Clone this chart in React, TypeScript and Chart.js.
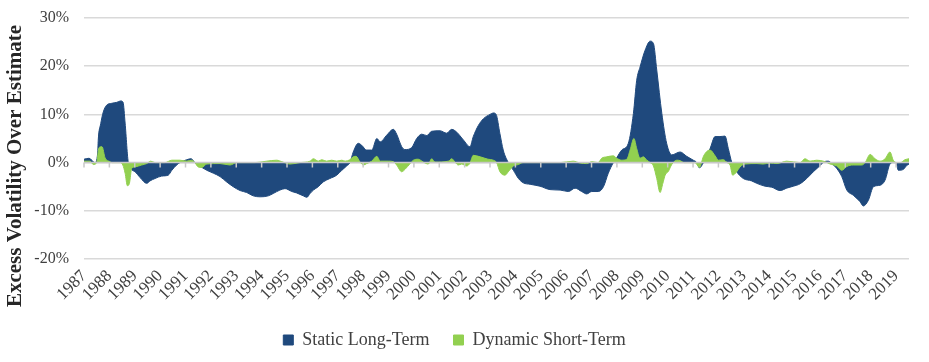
import React, { useEffect, useRef } from "react";
import { Chart, registerables } from "chart.js";

Chart.register(...registerables);

const FONT = "'Liberation Serif', 'Times New Roman', serif";

const yTickValues = [-20, -10, 0, 10, 20, 30];
const yearStart = 1987;
const yearEnd = 2019.51;
const yTitle = "Excess Volatility Over Estimate";
const seriesNames = ["Static Long-Term", "Dynamic Short-Term"];
const seriesColors = ["#1F497D", "#92D050"];

const staticYears = [
  1987.0, 1987.2, 1987.43, 1987.54, 1987.56, 1987.66, 1987.76, 1987.89, 1988.09, 1988.29, 1988.45, 1988.54, 1988.62, 1988.75,
  1989.01, 1989.21, 1989.47, 1989.6, 1989.8, 1990.06, 1990.32, 1990.46, 1990.65, 1990.78, 1991.05, 1991.22, 1991.37,
  1991.5, 1991.84, 1992.1, 1992.36, 1992.62, 1992.88, 1993.15, 1993.41, 1993.67, 1993.94, 1994.26, 1994.46, 1994.72,
  1994.92, 1995.19, 1995.38, 1995.64, 1995.78, 1995.91, 1996.04, 1996.23, 1996.43, 1996.69, 1996.96, 1997.16, 1997.35,
  1997.48, 1997.61, 1997.81, 1997.94, 1998.14, 1998.34, 1998.54, 1998.67, 1998.93, 1999.19, 1999.32, 1999.52, 1999.65,
  1999.91, 2000.11, 2000.31, 2000.51, 2000.7, 2001.03, 2001.29, 2001.49, 2001.69, 2001.95, 2002.21, 2002.34, 2002.54,
  2002.74, 2003.0, 2003.13, 2003.24, 2003.39, 2003.52, 2003.72, 2003.92, 2004.12, 2004.31, 2004.58, 2004.97, 2005.36,
  2005.76, 2006.09, 2006.35, 2006.61, 2006.81, 2007.01, 2007.27, 2007.47, 2007.66, 2007.86, 2007.99, 2008.19, 2008.45,
  2008.65, 2008.78, 2008.91, 2009.11, 2009.31, 2009.44, 2009.57, 2009.77, 2009.96, 2010.16, 2010.49, 2010.75, 2011.01,
  2011.15, 2011.25, 2011.41, 2011.67, 2011.87, 2012.06, 2012.26, 2012.39, 2012.53, 2012.72, 2012.98, 2013.31, 2013.51,
  2013.84, 2014.1, 2014.43, 2014.69, 2014.95, 2015.22, 2015.48, 2015.74, 2016.01, 2016.14, 2016.33, 2016.47, 2016.66,
  2016.86, 2017.06, 2017.32, 2017.58, 2017.71, 2017.91, 2018.11, 2018.37, 2018.57, 2018.76, 2018.89, 2019.0, 2019.09,
  2019.29, 2019.42, 2019.51,
];
const staticValues = [
  0.7, 0.9, 0, 2.0, 4.6, 8.1, 10.5, 11.9, 12.3, 12.5, 12.8, 12.5, 8.2, 0,
  -1.9, -3.1, -4.3, -3.8, -3.3, -2.8, -2.6, -1.6, -0.5, 0, 0.6, 0.8, 0,
  -0.5, -1.6, -2.2, -2.9, -4.0, -5.0, -5.8, -6.2, -6.9, -7.1, -6.9, -6.4, -5.7,
  -5.4, -6.0, -6.3, -6.9, -7.2, -6.4, -5.7, -5.0, -4.0, -3.3, -2.6, -1.6, -0.7,
  0, 2.2, 4.0, 3.6, 2.6, 2.6, 5.0, 4.3, 5.7, 6.9, 5.9, 3.3, 2.7,
  3.1, 5.0, 5.9, 5.6, 6.5, 6.6, 6.1, 6.9, 6.3, 4.7, 3.3, 5.4, 7.7,
  9.1, 10.0, 10.3, 10.0, 6.0, 2.6, 0, -1.6, -3.3, -4.2, -4.5, -4.9, -5.6,
  -5.7, -6.0, -5.3, -6.0, -6.5, -6.0, -6.0, -5.0, -2.2, 0, 1.0, 2.6, 4.0,
  10.2, 17.1, 19.8, 23.3, 25.2, 24.7, 19.2, 10.2, 4.0, 1.6, 2.2, 1.3, 0.5,
  0, -1.1, 0, 2.9, 5.4, 5.4, 5.5, 2.9, 0, -1.9, -3.3, -3.8, -4.3,
  -4.9, -5.1, -5.8, -5.3, -4.9, -4.4, -3.3, -1.9, -0.6, 0.1, 0.3, -0.2, -1.2,
  -2.9, -5.7, -6.8, -8.1, -9.0, -7.8, -5.0, -4.7, -3.6, -0.3, 0, 0, -1.6,
  -1.4, -0.6, -0.3,
];

const dynamicYears = [
  1987.0, 1987.24, 1987.37, 1987.5, 1987.59, 1987.71, 1987.83, 1988.02, 1988.1, 1988.42, 1988.53, 1988.62, 1988.71,
  1988.79, 1988.88, 1989.01, 1989.27, 1989.47, 1989.63, 1989.8, 1990.19, 1990.46, 1990.78, 1991.05, 1991.24, 1991.37,
  1991.5, 1991.64, 1991.84, 1992.36, 1992.75, 1993.02, 1993.74, 1994.2, 1994.59, 1994.84, 1995.12, 1995.51, 1995.91,
  1996.04, 1996.23, 1996.37, 1996.56, 1996.76, 1996.96, 1997.16, 1997.29, 1997.48, 1997.61, 1997.72, 1997.88, 1998.01,
  1998.14, 1998.34, 1998.54, 1998.67, 1998.99, 1999.19, 1999.32, 1999.52, 1999.65, 1999.85, 1999.98, 2000.17, 2000.37,
  2000.57, 2000.7, 2000.83, 2001.36, 2001.49, 2001.62, 2001.75, 2001.88, 2002.08, 2002.21, 2002.34, 2002.61, 2002.92,
  2003.13, 2003.26, 2003.39, 2003.59, 2003.72, 2003.92, 2004.12, 2004.3, 2005.76, 2006.28, 2006.55, 2006.81, 2007.01,
  2007.26, 2007.4, 2007.6, 2007.86, 2007.99, 2008.19, 2008.39, 2008.52, 2008.67, 2008.78, 2008.91, 2009.04, 2009.18,
  2009.31, 2009.44, 2009.57, 2009.7, 2009.81, 2009.9, 2010.03, 2010.16, 2010.36, 2010.49, 2010.65, 2011.08, 2011.25,
  2011.41, 2011.54, 2011.67, 2011.87, 2012.0, 2012.19, 2012.34, 2012.46, 2012.56, 2012.72, 2012.85, 2013.05, 2013.52,
  2013.76, 2014.03, 2014.31, 2014.69, 2015.22, 2015.41, 2015.61, 2015.87, 2016.2, 2016.4, 2016.66, 2016.86, 2017.06,
  2017.31, 2017.65, 2017.78, 2017.98, 2018.17, 2018.37, 2018.57, 2018.76, 2018.89, 2019.03, 2019.17, 2019.35, 2019.51,
];
const dynamicValues = [
  0.3, 0.3, -0.4, 0, 3.1, 3.3, 1.0, 0.2, 0, 0, -0.5, -2.2, -4.8,
  -4.3, -1.2, -0.9, -0.5, -0.2, 0.3, 0, 0, 0.5, 0.5, 0.3, 0.5, 0,
  -0.9, -1.0, -0.3, -0.2, -0.5, 0, 0, 0.3, 0.5, 0.1, -0.3, 0, 0.3,
  0.8, 0.3, 0.6, 0.3, 0.5, 0.3, 0.5, 0.3, 0.6, 1.2, 1.3, 0.1, -0.5,
  -0.2, 0.3, 1.3, 0.3, 0.3, 0.2, -0.5, -1.9, -1.4, -0.2, 0.5, 0.7, 0.1,
  -0.3, 0.8, 0.1, 0.3, 0.8, 0.1, -0.5, -0.3, -0.7, -0.1, 1.5, 1.2, 0.7,
  0.5, 0, -1.9, -2.6, -1.9, -0.7, -0.4, 0, 0, 0.3, -0.1, -0.2, 0.2,
  0, 0.9, 1.2, 1.4, 0.9, 0.5, 0.7, 2.6, 5.0, 2.9, 0.9, 1.2, 0.5,
  0, -0.7, -3.3, -6.2, -4.3, -2.6, -1.8, -0.4, 0.5, 0.4, 0, 0, -1.0,
  1.3, 2.3, 2.6, 1.4, 0.5, 0.6, 0, -0.5, -2.6, -1.9, -0.9, -0.3, -0.2,
  -0.3, -0.1, -0.2, 0.3, 0, 0.8, 0.3, 0.5, 0.2, -0.3, -0.7, -1.6, -0.8,
  -0.5, -0.5, 0, 1.7, 0.8, 0.3, 0.8, 2.2, 0.5, 0, 0, 0.6, 0.8,
];

const toPoints = (xs: number[], ys: number[]) => xs.map((x, i) => ({ x, y: ys[i] }));

const decorPlugin = {
  id: "decor",
  afterDatasetsDraw(chart: any) {
    const { ctx, chartArea, scales } = chart;
    const y0 = scales.y.getPixelForValue(0);
    ctx.save();
    ctx.strokeStyle = "#c8c8c8";
    ctx.lineWidth = 1.5;
    ctx.beginPath();
    ctx.moveTo(chartArea.left, y0);
    ctx.lineTo(chartArea.right, y0);
    for (const t of scales.x.ticks) {
      const x = scales.x.getPixelForValue(t.value);
      ctx.moveTo(x, y0);
      ctx.lineTo(x, y0 + 5);
    }
    ctx.stroke();
    ctx.restore();
  },
  afterDraw(chart: any) {
    const { ctx } = chart;
    ctx.save();
    ctx.translate(21, 166);
    ctx.rotate(-Math.PI / 2);
    ctx.font = `bold 21px ${FONT}`;
    ctx.fillStyle = "#262626";
    ctx.textAlign = "center";
    ctx.textBaseline = "alphabetic";
    ctx.fillText(yTitle, 0, 0);
    ctx.restore();
  },
};

export default function App() {
  const ref = useRef<HTMLCanvasElement>(null);
  useEffect(() => {
    if (!ref.current) return;
    const chart = new Chart(ref.current, {
      type: "line",
      data: {
        datasets: [
          {
            label: seriesNames[0],
            data: toPoints(staticYears, staticValues),
            borderColor: seriesColors[0],
            backgroundColor: seriesColors[0],
            borderWidth: 1,
            pointRadius: 0,
            fill: "origin",
            cubicInterpolationMode: "monotone",
            order: 2,
          },
          {
            label: seriesNames[1],
            data: toPoints(dynamicYears, dynamicValues),
            borderColor: seriesColors[1],
            backgroundColor: seriesColors[1],
            borderWidth: 1,
            pointRadius: 0,
            fill: "origin",
            cubicInterpolationMode: "monotone",
            order: 1,
          },
        ],
      },
      options: {
        animation: false,
        responsive: true,
        maintainAspectRatio: false,
        layout: { padding: { left: 0, right: 20, top: 18, bottom: 3 } },
        font: { family: FONT },
        plugins: {
          tooltip: { enabled: false },
          legend: {
            position: "bottom",
            labels: {
              boxWidth: 10,
              boxHeight: 10,
              padding: 24,
              color: "#404040",
              font: { family: FONT, size: 18 },
              sort: (a: any, b: any) => a.datasetIndex - b.datasetIndex,
            },
          },
        },
        scales: {
          x: {
            type: "linear",
            min: yearStart,
            max: yearEnd,
            border: { display: false },
            grid: { display: false, drawTicks: false },
            afterFit: (s: any) => {
              s.height = 48;
              s.paddingTop = 0;
            },
            ticks: {
              stepSize: 1,
              includeBounds: false,
              autoSkip: false,
              minRotation: 45,
              maxRotation: 45,
              padding: 7,
              color: "#404040",
              font: { family: FONT, size: 17 },
              callback: (v: any) => String(v),
            },
          },
          y: {
            min: yTickValues[0],
            max: yTickValues[yTickValues.length - 1],
            border: { display: false },
            grid: { color: "#d9d9d9", lineWidth: 1.5, drawTicks: false },
            afterFit: (s: any) => {
              s.width = 84;
              s.paddingTop = 0;
              s.paddingBottom = 0;
            },
            afterBuildTicks: (s: any) => {
              s.ticks = yTickValues.map((v) => ({ value: v }));
            },
            ticks: {
              padding: 15,
              color: "#404040",
              font: { family: FONT, size: 16 },
              callback: (v: any) => `${v}%`,
            },
          },
        },
      },
      plugins: [decorPlugin],
    });
    return () => chart.destroy();
  }, []);
  return (
    <div style={{ position: "fixed", left: 0, top: 0, width: 929, height: 362, background: "#fff" }}>
      <canvas ref={ref} />
    </div>
  );
}
